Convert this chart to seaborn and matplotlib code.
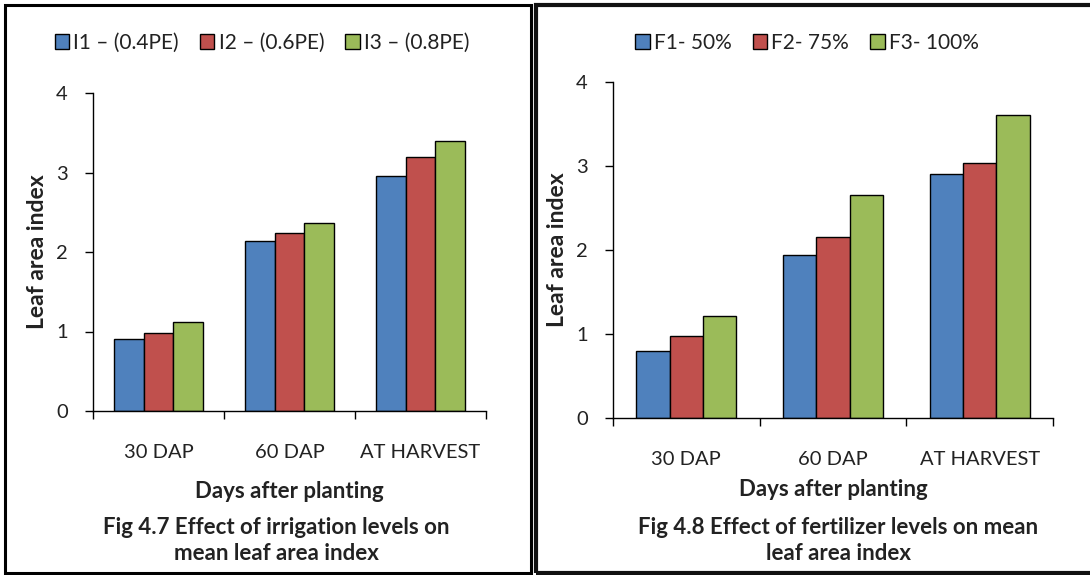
import matplotlib
matplotlib.use("Agg")
import matplotlib.pyplot as plt
from matplotlib.patches import Rectangle
import seaborn as sns
import pandas as pd

# ---- data ----
stages = ["30 DAP", "60 DAP", "AT HARVEST"]
irr_levels = ["I1 \u2013 (0.4PE)", "I2 \u2013 (0.6PE)", "I3 \u2013 (0.8PE)"]
irr_values = [
    [0.91, 2.14, 2.96],   # I1
    [0.98, 2.24, 3.20],   # I2
    [1.12, 2.37, 3.39],   # I3
]
fert_levels = ["F1- 50%", "F2- 75%", "F3- 100%"]
fert_values = [
    [0.80, 1.94, 2.90],   # F1
    [0.98, 2.16, 3.04],   # F2
    [1.21, 2.66, 3.61],   # F3
]
yticks = [0, 1, 2, 3, 4]
colors = ["#4F81BD", "#C0504D", "#9BBB59"]

sns.set_theme(style="white")
plt.rcParams["font.family"] = ["Lato", "DejaVu Sans"]

W, H = 1090, 575
fig = plt.figure(figsize=(W / 100, H / 100), dpi=100)


def frac_rect(x0, y0, x1, y1):
    return [x0 / W, 1 - y1 / H, (x1 - x0) / W, (y1 - y0) / H]


def panel(rect, levels, values, title_lines, ylabel_x, xlabel_y, legend_center,
          caption_pos):
    ax = fig.add_axes(rect)
    rows = []
    for lev, vals in zip(levels, values):
        for st, v in zip(stages, vals):
            rows.append({"stage": st, "level": lev, "value": v})
    df = pd.DataFrame(rows)
    sns.barplot(data=df, x="stage", y="value", hue="level", order=stages,
                hue_order=levels, palette=colors, width=0.68, edgecolor="black",
                linewidth=1.0, saturation=1, ax=ax, legend=True)
    ax.set_ylim(0, 4)
    ax.set_xlim(-0.5, 2.5)
    ax.set_yticks(yticks)
    ax.set_yticklabels([str(t) for t in yticks], fontsize=14.5)
    ax.set_xticks(range(len(stages)))
    ax.set_xticklabels(stages, fontsize=14.5)
    ax.set_xticks([-0.5, 0.5, 1.5, 2.5], minor=True)
    ax.tick_params(axis="x", which="major", length=0, pad=24, colors="#222222")
    ax.tick_params(axis="x", which="minor", length=6, width=1, direction="out",
                   color="black", bottom=True)
    ax.tick_params(axis="y", length=6, width=1, direction="out", color="black",
                   pad=12, left=True, colors="#222222")
    for s in ["top", "right"]:
        ax.spines[s].set_visible(False)
    for s in ["left", "bottom"]:
        ax.spines[s].set_color("black")
        ax.spines[s].set_linewidth(1.0)
    ax.set_ylabel("Leaf area index", fontsize=16.5, fontweight="bold", color="#222222")
    ax.yaxis.set_label_coords(ylabel_x, 0.5)
    ax.yaxis.label.set_va("center")
    ax.set_xlabel("Days after planting", fontsize=16, fontweight="bold", color="#222222")
    ax.xaxis.set_label_coords(0.5, xlabel_y)
    ax.xaxis.label.set_va("center")

    handles, labels = ax.get_legend_handles_labels()
    ax.get_legend().remove()
    fig.legend(handles, labels, loc="center", bbox_to_anchor=legend_center,
               ncol=3, frameon=False, fontsize=15, handlelength=0.7,
               handleheight=0.7, handletextpad=0.2, columnspacing=1.0,
               labelcolor="#222222")
    xs, ys = caption_pos
    for line, y in zip(title_lines, ys):
        fig.text(xs, y, line, ha="center", va="center",
                 fontsize=16, fontweight="bold", color="#222222")
    return ax


# left panel
panel(frac_rect(93, 93, 486, 411), irr_levels, irr_values,
      ["Fig 4.7 Effect of irrigation levels on", "mean leaf area index"],
      ylabel_x=(37 - 93) / 393, xlabel_y=(411 - 492) / 318,
      legend_center=(262 / W, 1 - 43 / H),
      caption_pos=(276 / W, [1 - 528 / H, 1 - 553 / H]))

# right panel
panel(frac_rect(613, 82, 1053, 418), fert_levels, fert_values,
      ["Fig 4.8 Effect of fertilizer levels on mean", "leaf area index"],
      ylabel_x=(558 - 613) / 440, xlabel_y=(418 - 489) / 336,
      legend_center=(807 / W, 1 - 43 / H),
      caption_pos=(838 / W, [1 - 527 / H, 1 - 554 / H]))

# panel borders
fig.add_artist(Rectangle((5 / W, 1 - 573 / H), (531 - 5) / W, (573 - 5) / H,
                         transform=fig.transFigure, fill=False, edgecolor="black",
                         linewidth=2.2))
fig.add_artist(Rectangle((536 / W, 1 - 573 / H), (1100 - 536) / W, (573 - 5) / H,
                         transform=fig.transFigure, fill=False, edgecolor="#111111",
                         linewidth=3.0))

fig.savefig("out.png", dpi=100, facecolor="white")
